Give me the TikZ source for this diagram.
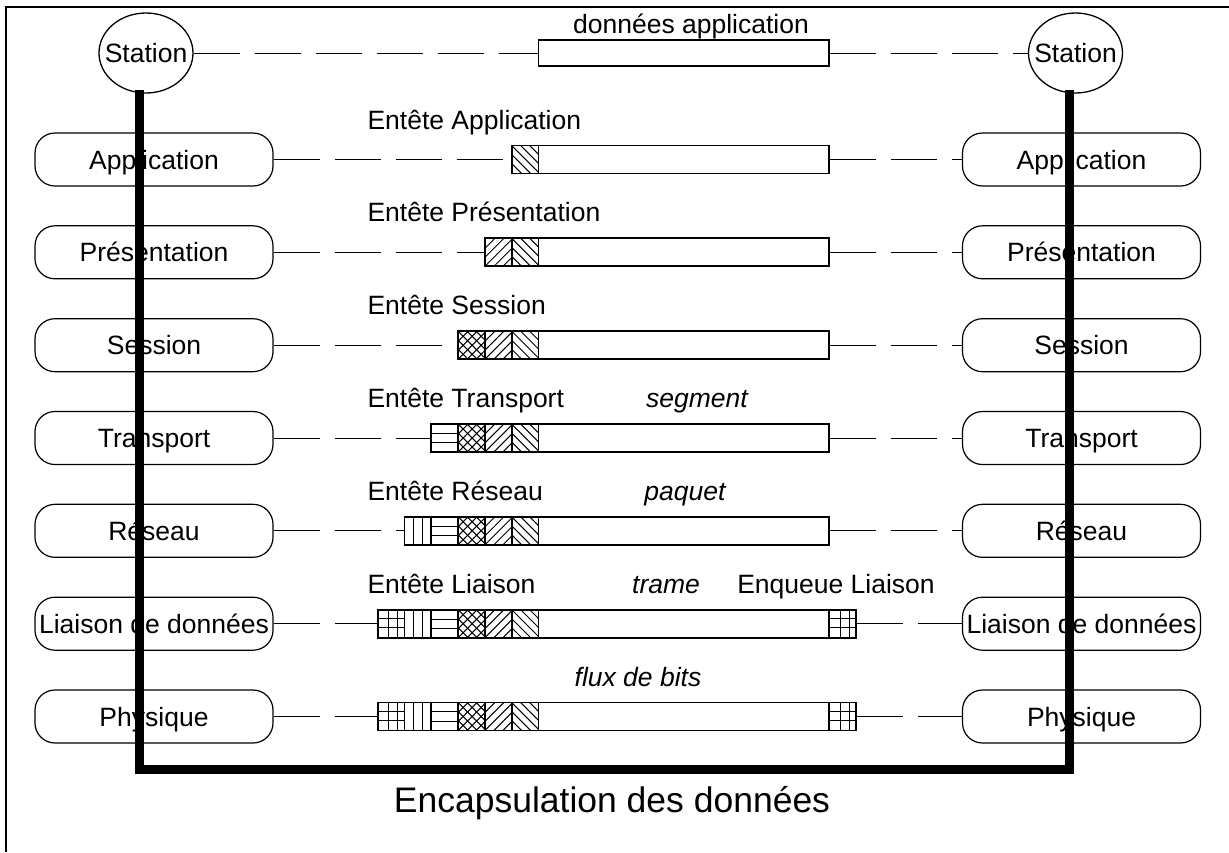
\documentclass[tikz,border=0pt]{standalone}
\usepackage{fontspec}
\setmainfont{Liberation Sans}
\usetikzlibrary{shapes.geometric}
\newcommand{\fixedtext}[1]{\makebox[0pt][c]{\raisebox{-0.36em}[0pt][0pt]{#1}}}
\begin{document}
\begin{tikzpicture}[x=1pt,y=-1pt,
  every node/.style={font=\fontsize{26.5}{32}\selectfont},
  station/.style={draw, ellipse, minimum width=94, minimum height=80, inner sep=0, line width=1.3pt},
  layer/.style={draw, rounded corners=20, minimum width=238, minimum height=53, inner sep=0, line width=1.2pt},
  seg/.style={draw, line width=1.8pt, minimum width=26.8, minimum height=28, inner sep=0},
  databox/.style={draw, line width=1.8pt, minimum width=290.5, minimum height=28, inner sep=0},
  link/.style={line width=0.9pt, dash pattern=on 46pt off 15pt},
  hatch/.style={line width=1pt},
  pat1/.style={path picture={\foreach \s in {-27,-18,-9,0,9,18}{\draw[hatch] ([xshift=\s pt]path picture bounding box.north west) -- ++(40pt,-40pt);}}},
  pat2/.style={path picture={\foreach \s in {-27,-18,-9,0,9,18}{\draw[hatch] ([xshift=\s pt]path picture bounding box.south west) -- ++(40pt,40pt);}}},
  pat3/.style={path picture={\foreach \s in {-27,-18,-9,0,9,18}{\draw[hatch] ([xshift=\s pt]path picture bounding box.north west) -- ++(40pt,-40pt);
      \draw[hatch] ([xshift=\s pt]path picture bounding box.south west) -- ++(40pt,40pt);}}},
  pat4/.style={path picture={\foreach \s in {9.3,18.7}{\draw[hatch] ([yshift=-\s pt]path picture bounding box.north west) -- ++(30pt,0);}}},
  pat5/.style={path picture={\foreach \s in {8.9,17.9}{\draw[hatch] ([xshift=\s pt]path picture bounding box.north west) -- ++(0,-30pt);}}},
  pat6/.style={path picture={\foreach \s in {11,19.5}{\draw[hatch] ([xshift=\s pt]path picture bounding box.north west) -- ++(0,-30pt);}
      \foreach \s in {9,18}{\draw[hatch] ([yshift=-\s pt]path picture bounding box.north west) -- ++(30pt,0);}}},
  hdrlabel/.style={anchor=base west},
  pktlabel/.style={anchor=base, font=\fontsize{26.5}{32}\selectfont\itshape}
]
\useasboundingbox (0,0) rectangle (1229,852);

% outer frame (left and top edges)
\draw[line width=2pt] (6,852) -- (6,7) -- (1229,7);

% end stations and the application data
\node[station] (stL) at (146,53) {\fixedtext{Station}};
\node[station] (stR) at (1075.5,53) {\fixedtext{Station}};
\node[databox, minimum height=26] (d0) at (683.75,53) {};
\node[anchor=base] (dlbl) at (691,33) {données application};
\draw[link] (stL.east) -- (d0.west);
\draw[link] (d0.east) -- (stR.west);

% layers, with the encapsulated unit of each one
\foreach \i/\y/\name in {1/159.5/Application, 2/252.3/Présentation, 3/345.2/Session,
    4/438/Transport, 5/530.8/Réseau, 6/623.7/Liaison de données, 7/716.5/Physique}{
  \pgfmathtruncatemacro\n{min(\i,6)}
  \node[layer] (L\i) at (154,\y) {\fixedtext{\name}};
  \node[layer] (R\i) at (1081.5,\y) {\fixedtext{\name}};
  \node[databox] (D\i) at (683.75,\y) {};
  \foreach \j in {1,...,\n}{
    \node[seg, pat\j] (H\i-\j) at ({538.5-26.8*(\j-0.5)},\y) {};
  }
  \draw[link] (L\i.east) -- (H\i-\n.west);
  \ifnum\i>5
    \node[seg, pat6] (T\i) at (842.9,\y) {};
    \draw[link] (T\i.east) -- (R\i.west);
  \else
    \draw[link] (D\i.east) -- (R\i.west);
  \fi
}

% header names and unit names
\node[hdrlabel] (e1) at (364,129) {Entête Application};
\node[hdrlabel] (e2) at (364,221.8) {Entête Présentation};
\node[hdrlabel] (e3) at (364,314.7) {Entête Session};
\node[hdrlabel] (e4) at (364,407.5) {Entête Transport};
\node[hdrlabel] (e5) at (364,500.3) {Entête Réseau};
\node[hdrlabel] (e6) at (364,593.2) {Entête Liaison};
\node[pktlabel] (u4) at (697,407.5) {segment};
\node[pktlabel] (u5) at (685,500.3) {paquet};
\node[pktlabel] (u6) at (666,593.2) {trame};
\node[anchor=base] (q6) at (836,593.2) {Enqueue Liaison};
\node[pktlabel] (u7) at (638,686) {flux de bits};

% path of the data through both stacks
\coordinate (bot) at (600,769.5);
\draw[line width=9pt] ([xshift=-6.5pt,yshift=4pt]stL.south) |- (bot) -| ([xshift=-6pt,yshift=4pt]stR.south);

\node[anchor=base, font=\fontsize{35.5}{42}\selectfont] (title) at (612,812) {Encapsulation des données};
\end{tikzpicture}
\end{document}
